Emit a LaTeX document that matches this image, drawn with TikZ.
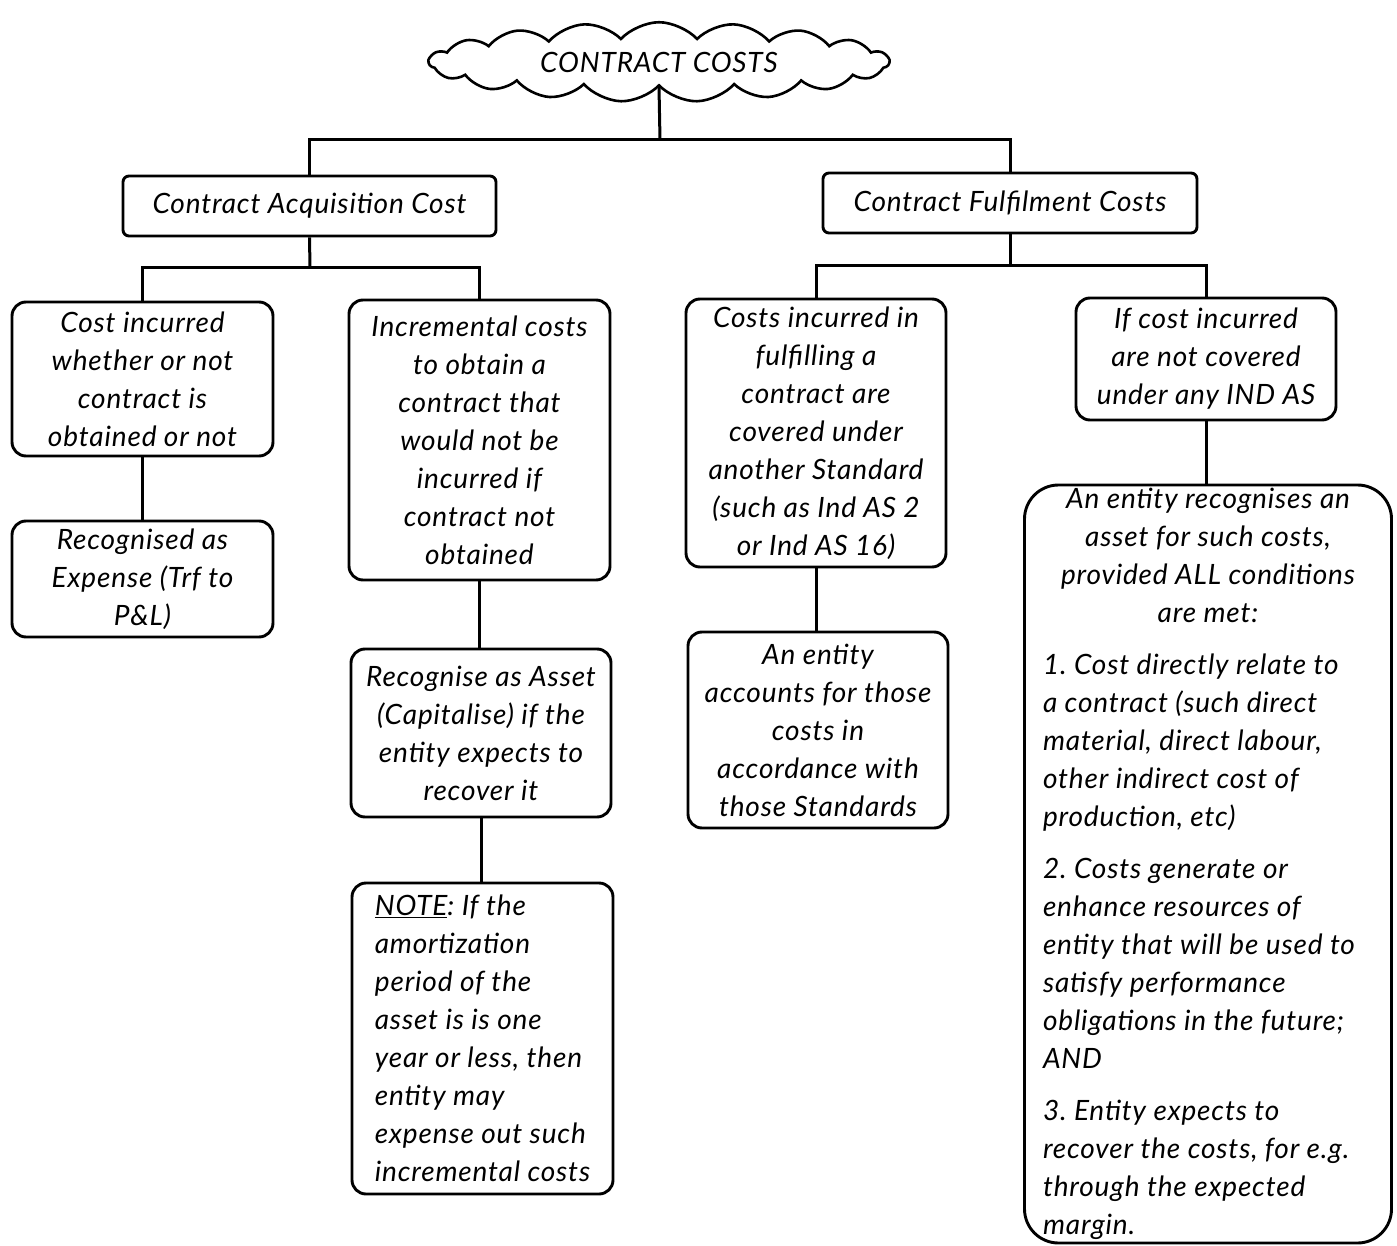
\documentclass[tikz,border=0pt]{standalone}
\usepackage{fontspec}
\setmainfont{Lato}[LetterSpace=3]
\usetikzlibrary{shapes.symbols}
\frenchspacing
\begin{document}
\begin{tikzpicture}[x=1pt,y=-1pt,
  every node/.style={font=\fontsize{28}{38}\selectfont\itshape},
  box/.style={draw, line width=2.9pt, rounded corners=14pt, fill=white,
    align=center, inner sep=0pt},
  head/.style={box, rounded corners=6pt},
  link/.style={line width=3pt}]
\useasboundingbox (0,0) rectangle (1397,1246);

% title cloud
\node[cloud, draw, line width=2.6pt, cloud puffs=19, cloud puff arc=95,
  aspect=6, minimum width=460pt, minimum height=76pt, inner sep=0pt]
  (cc) at (659,62) {CONTRACT COSTS};

% second level
\node[head, minimum width=373pt, minimum height=60pt] (acq) at (309.5,206)
  {Contract Acquisition Cost};
\node[head, minimum width=374pt, minimum height=60pt] (ful) at (1010,203)
  {Contract Fulfilment Costs};

% acquisition branch
\node[box, minimum width=261pt, minimum height=154pt] (inc) at (142.5,379)
  {Cost incurred\\ whether or not\\ contract is\\ obtained or not};
\node[box, minimum width=261pt, minimum height=280pt] (incr) at (479.5,440)
  {Incremental costs\\ to obtain a\\ contract that\\ would not be\\ incurred if\\ contract not\\ obtained};
\node[box, minimum width=261pt, minimum height=116pt] (exp) at (142.5,579)
  {Recognised as\\ Expense (Trf to\\ P\&L)};
\node[box, minimum width=260pt, minimum height=168pt] (asset) at (481,733)
  {Recognise as Asset\\ (Capitalise) if the\\ entity expects to\\ recover it};
\node[box, align=left, minimum width=261pt, minimum height=311pt] (note) at (482.5,1038.5)
  {\underline{NOTE}: If the\\ amortization\\ period of the\\ asset is is one\\ year or less, then\\ entity may\\ expense out such\\ incremental costs};

% fulfilment branch
\node[box, minimum width=260pt, minimum height=268pt] (cov) at (816,433)
  {Costs incurred in\\ fulfilling a\\ contract are\\ covered under\\ another Standard\\ (such as Ind AS 2\\ or Ind AS 16)};
\node[box, minimum width=260pt, minimum height=122pt] (notcov) at (1206,359)
  {If cost incurred\\ are not covered\\ under any IND AS};
\node[box, minimum width=260pt, minimum height=196pt] (acc) at (818,730)
  {An entity\\ accounts for those\\ costs in\\ accordance with\\ those Standards};
\node[box, rounded corners=34pt, minimum width=367pt, minimum height=758pt]
  (cond) at (1208,864)
  {\begin{minipage}{350pt}\centering
   An entity recognises an\\ asset for such costs,\\ provided ALL conditions\\ are met:\par
   \raggedright\leftskip=10pt
   \vspace{14pt}1. Cost directly relate to\\ a contract (such direct\\ material, direct labour,\\ other indirect cost of\\ production, etc)\par
   \vspace{14pt}2. Costs generate or\\ enhance resources of\\ entity that will be used to\\ satisfy performance\\ obligations in the future;\\ AND\par
   \vspace{14pt}3. Entity expects to\\ recover the costs, for e.g.\\ through the expected\\ margin.\par
   \end{minipage}};

% connectors
\coordinate (j0) at (660,140);
\coordinate (j1) at (310,268);
\coordinate (j2) at (1010,266);
\draw[link] (cc.south) -- (j0);
\draw[link] (acq.north) |- (j0) -| (ful.north);
\draw[link] (acq.south) -- (j1);
\draw[link] (inc.north) |- (j1) -| (incr.north);
\draw[link] (ful.south) -- (j2);
\draw[link] (cov.north) |- (j2) -| (notcov.north);
\draw[link] (inc.south) -- (inc.south |- exp.north);
\draw[link] (incr.south) -- (incr.south |- asset.north);
\draw[link] (asset.south) -- (asset.south |- note.north);
\draw[link] (cov.south) -- (cov.south |- acc.north);
\draw[link] (notcov.south) -- (notcov.south |- cond.north);
\end{tikzpicture}
\end{document}
